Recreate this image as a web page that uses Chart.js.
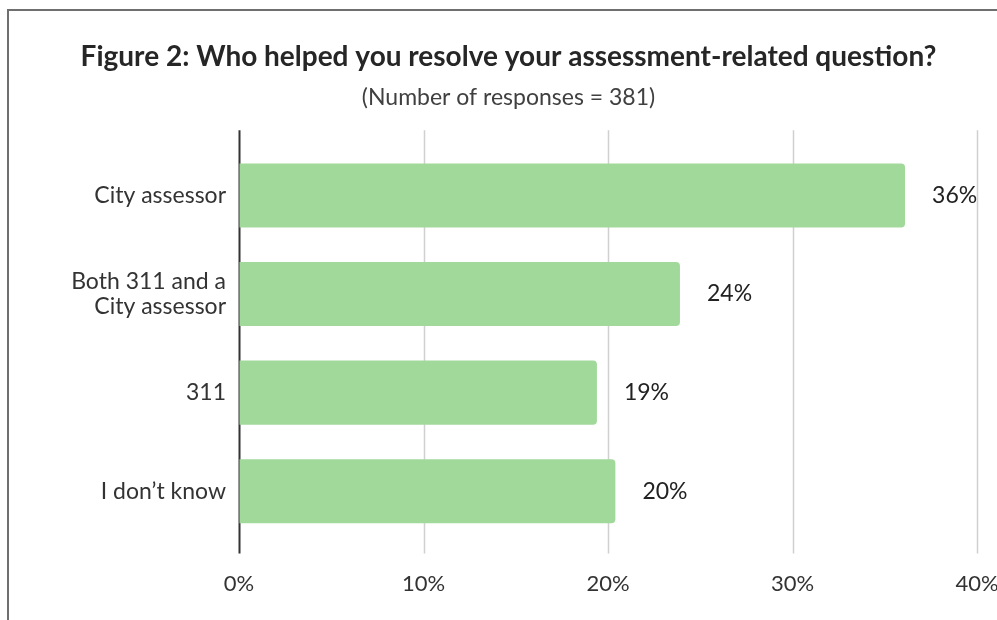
<!DOCTYPE html>
<html>
<head>
<meta charset="utf-8">
<script src="https://cdn.jsdelivr.net/npm/chart.js@4.4.1/dist/chart.umd.min.js"></script>
<style>
    html, body { margin: 0; padding: 0; background: #ffffff; overflow: hidden; }
    .frame { position: absolute; left: 7px; top: 9px; width: 1200px; height: 800px; border: 2px solid #6f6f6f; }
    .chart-wrap { position: absolute; left: 0; top: 0; width: 997px; height: 620px; }
</style>
</head>
<body>
<div class="frame"></div>
<div class="chart-wrap"><canvas id="helpChart"></canvas></div>
<script>
const categories = ['City assessor', ['Both 311 and a', 'City assessor'], '311', 'I don\u2019t know'];
const shares = [36.1, 23.9, 19.4, 20.4];
const tickValues = [0, 10, 20, 30, 40];

document.addEventListener('DOMContentLoaded', function () {
    const fontFamily = 'Lato, "Open Sans", sans-serif';

    // gridlines and the zero line run a bit past the plot area, like the original
    const extendedGrid = {
        id: 'extendedGrid',
        beforeDatasetsDraw(chart) {
            const { ctx, chartArea, scales } = chart;
            const top = chartArea.top - 16;
            const bottom = chartArea.bottom + 13;
            ctx.save();
            tickValues.forEach(function (v) {
                const x = Math.round(scales.x.getPixelForValue(v)) + 0.5;
                ctx.beginPath();
                ctx.strokeStyle = v === 0 ? '#333333' : '#d0d0d0';
                ctx.lineWidth = v === 0 ? 2 : 1.5;
                ctx.moveTo(x, top);
                ctx.lineTo(x, bottom);
                ctx.stroke();
            });
            ctx.restore();
        }
    };

    const valueLabels = {
        id: 'valueLabels',
        afterDatasetsDraw(chart) {
            const { ctx } = chart;
            const meta = chart.getDatasetMeta(0);
            ctx.save();
            ctx.font = '23px ' + fontFamily;
            ctx.fillStyle = '#222222';
            ctx.textAlign = 'left';
            ctx.textBaseline = 'middle';
            meta.data.forEach(function (bar, i) {
                ctx.fillText(Math.round(shares[i]) + '%', bar.x + 27, bar.y);
            });
            ctx.restore();
        }
    };

    new Chart(document.getElementById('helpChart'), {
        type: 'bar',
        data: {
            labels: categories,
            datasets: [{
                data: shares,
                backgroundColor: '#a1d99b',
                borderRadius: 4,
                borderSkipped: 'start',
                barPercentage: 0.65,
                categoryPercentage: 1
            }]
        },
        options: {
            indexAxis: 'y',
            responsive: true,
            maintainAspectRatio: false,
            animation: false,
            layout: { padding: { left: 20, right: 0, top: 0, bottom: 0 } },
            plugins: {
                legend: { display: false },
                tooltip: { enabled: false },
                title: {
                    display: true,
                    text: 'Figure 2: Who helped you resolve your assessment-related question?',
                    color: '#262626',
                    font: { family: fontFamily, size: 28, weight: 'bold' },
                    padding: { top: 40, bottom: 4 }
                },
                subtitle: {
                    display: true,
                    text: '(Number of responses = 381)',
                    color: '#404040',
                    font: { family: fontFamily, size: 23 },
                    padding: { top: 6, bottom: 35 }
                }
            },
            scales: {
                x: {
                    min: 0,
                    max: 40,
                    afterBuildTicks(scale) {
                        scale.ticks = tickValues.map(function (v) { return { value: v }; });
                    },
                    afterFit(scale) {
                        scale.height = 79.5;
                        scale.paddingRight = 20; // the last label is allowed to run off the edge
                    },
                    ticks: {
                        callback: function (v) { return v + '%'; },
                        color: '#333333',
                        font: { family: fontFamily, size: 22 },
                        padding: 3
                    },
                    grid: {
                        drawOnChartArea: false,
                        drawTicks: true,
                        tickLength: 27,
                        color: 'rgba(0,0,0,0)'
                    },
                    border: { display: false }
                },
                y: {
                    afterFit(scale) { scale.width = 219; },
                    ticks: {
                        color: '#333333',
                        font: { family: fontFamily, size: 23, lineHeight: 1.12 },
                        padding: 13
                    },
                    grid: { display: false, drawTicks: false },
                    border: { display: false }
                }
            }
        },
        plugins: [extendedGrid, valueLabels]
    });
});
</script>
</body>
</html>
